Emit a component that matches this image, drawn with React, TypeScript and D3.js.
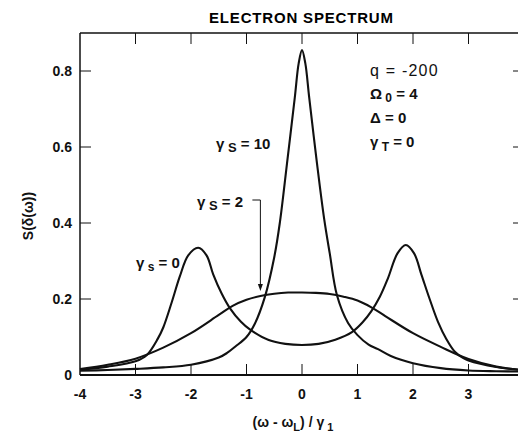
import React from "react";
import * as d3 from "d3";

const xTicks = [-4, -3, -2, -1, 0, 1, 2, 3];
const yTicks = [0, 0.2, 0.4, 0.6, 0.8];
const yTickLabels = ["0", "0.2", "0.4", "0.6", "0.8"];

// gamma_S = 0 (two side peaks)
const g0X = [-4, -3.5, -3, -2.8, -2.6, -2.5, -2.35, -2.2, -2.05, -1.87, -1.72, -1.6, -1.45, -1.3, -1.1, -0.94, -0.6, -0.3, 0, 0.3, 0.6, 0.9, 1.1, 1.25, 1.4, 1.55, 1.72, 1.87, 2.02, 2.15, 2.3, 2.45, 2.6, 2.75, 2.9, 3.0, 3.5, 4];
const g0Y = [0.014, 0.022, 0.036, 0.052, 0.095, 0.125, 0.19, 0.26, 0.315, 0.335, 0.315, 0.265, 0.215, 0.176, 0.14, 0.12, 0.092, 0.082, 0.079, 0.082, 0.093, 0.113, 0.14, 0.168, 0.205, 0.255, 0.32, 0.342, 0.32, 0.265, 0.2, 0.14, 0.095, 0.062, 0.045, 0.038, 0.021, 0.013];

// gamma_S = 2 (broad flat top)
const g2X = [-4, -3.5, -3, -2.5, -2, -1.5, -1.25, -1, -0.75, -0.5, -0.25, 0, 0.25, 0.5, 0.75, 1, 1.25, 1.5, 2, 2.5, 3, 3.5, 4];
const g2Y = [0.016, 0.027, 0.043, 0.072, 0.11, 0.158, 0.182, 0.198, 0.208, 0.214, 0.217, 0.217, 0.216, 0.213, 0.206, 0.196, 0.178, 0.155, 0.11, 0.074, 0.042, 0.022, 0.012];

// gamma_S = 10 (central peak)
const g10X = [-4, -3.5, -3, -2.5, -2, -1.5, -1.35, -1.2, -1, -0.85, -0.67, -0.5, -0.4, -0.27, -0.13, -0.06, 0, 0.06, 0.13, 0.27, 0.4, 0.5, 0.63, 0.83, 1, 1.2, 1.37, 1.6, 2, 2.5, 3, 3.5, 4];
const g10Y = [0.011, 0.013, 0.016, 0.02, 0.027, 0.046, 0.058, 0.075, 0.1, 0.135, 0.205, 0.31, 0.4, 0.557, 0.73, 0.82, 0.855, 0.82, 0.73, 0.557, 0.41, 0.32, 0.21, 0.137, 0.105, 0.08, 0.068, 0.05, 0.031, 0.018, 0.012, 0.01, 0.009];

const series = [
  { xs: g0X, ys: g0Y },
  { xs: g2X, ys: g2Y },
  { xs: g10X, ys: g10Y },
];

const W = 518;
const H = 435;
const left = 80;
const right = 524; // frame runs off the right edge in the scan
const top = 33;
const bottom = 375;
const font = "'Liberation Sans', Arial, sans-serif";

export default function App() {
  const x = d3.scaleLinear().domain([-4, 4]).range([left, right]);
  const y = d3.scaleLinear().domain([0, 0.9]).range([bottom, top]);

  const line = d3
    .line<[number, number]>()
    .x((d) => x(d[0]))
    .y((d) => y(d[1]))
    .curve(d3.curveCatmullRom.alpha(0.5));

  const tickLen = 11;
  const arrowX = x(-0.75);

  return (
    <svg
      width={W}
      height={H}
      style={{ position: "absolute", left: 0, top: 0, background: "#fff" }}
      fontFamily={font}
    >
      <text x={301} y={23} fontSize={15} fontWeight="bold" textAnchor="middle" textLength={184} lengthAdjust="spacing">
        ELECTRON SPECTRUM
      </text>

      {/* frame */}
      <g stroke="#111" fill="none">
        <line x1={left} x2={right} y1={top} y2={top} strokeWidth={1.3} />
        <line x1={left} x2={left} y1={top} y2={bottom} strokeWidth={1.5} />
        <line x1={right} x2={right} y1={top} y2={bottom} strokeWidth={1.5} />
        <line x1={left} x2={right} y1={bottom} y2={bottom} strokeWidth={2.2} />
        {xTicks.slice(1).map((t) => (
          <g key={t}>
            <line x1={x(t)} x2={x(t)} y1={top} y2={top + tickLen} strokeWidth={1} />
            <line x1={x(t)} x2={x(t)} y1={bottom} y2={bottom - tickLen} strokeWidth={1} />
          </g>
        ))}
        {yTicks.slice(1).map((t) => (
          <g key={t}>
            <line x1={left} x2={left + tickLen} y1={y(t)} y2={y(t)} strokeWidth={1} />
            <line x1={right} x2={right - tickLen} y1={y(t)} y2={y(t)} strokeWidth={1} />
          </g>
        ))}
      </g>

      {/* tick labels */}
      <g fontSize={14} fontWeight="bold" fill="#111">
        {yTicks.map((t, i) => (
          <text key={t} x={72} y={y(t)} dy="0.36em" textAnchor="end">
            {yTickLabels[i]}
          </text>
        ))}
        {xTicks.map((t) => (
          <text key={t} x={x(t)} y={399} textAnchor="middle">
            {t}
          </text>
        ))}
      </g>

      {/* axis titles */}
      <text x={293} y={427} fontSize={14} fontWeight="bold" textAnchor="middle" fill="#111">
        (ω - ω<tspan fontSize={11} dy={4}>L</tspan>
        <tspan dy={-4}>) / γ</tspan>
        <tspan fontSize={11} dy={4}> 1</tspan>
      </text>
      <text transform="translate(33,216) rotate(-90)" fontSize={14} fontWeight="bold" textAnchor="middle" fill="#111">
        S(δ(ω))
      </text>

      {/* curves */}
      <g fill="none" stroke="#111" strokeWidth={2.1} strokeLinejoin="round">
        {series.map((s, i) => (
          <path key={i} d={line(s.xs.map((v, j) => [v, s.ys[j]] as [number, number])) || ""} />
        ))}
      </g>

      {/* parameters */}
      <g fill="#111" fontSize={16}>
        <text x={370} y={76} letterSpacing={1.2}>q = -200</text>
        <text x={370} y={99} fontWeight="bold" fontSize={15}>
          Ω<tspan fontSize={12} dy={3}> 0</tspan>
          <tspan dy={-3}> = 4</tspan>
        </text>
        <text x={370} y={123} fontWeight="bold" fontSize={15}>Δ = 0</text>
        <text x={370} y={147} fontWeight="bold" fontSize={15}>
          γ<tspan fontSize={12} dy={4}> T</tspan>
          <tspan dy={-4}> = 0</tspan>
        </text>
      </g>

      {/* curve labels */}
      <g fill="#111" fontSize={15} fontWeight="bold">
        <text x={216} y={149}>
          γ<tspan fontSize={13} dy={3}> S</tspan>
          <tspan dy={-3}> = 10</tspan>
        </text>
        <text x={197} y={207}>
          γ<tspan fontSize={13} dy={3}> S</tspan>
          <tspan dy={-3}> = 2</tspan>
        </text>
        <text x={136} y={268}>
          γ<tspan fontSize={12} dy={3}> s</tspan>
          <tspan dy={-3}> = 0</tspan>
        </text>
      </g>

      {/* bracket arrow for gamma_S = 2 */}
      <g stroke="#111" strokeWidth={1} fill="none">
        <polyline points={`${arrowX - 8},200 ${arrowX},200 ${arrowX},286`} />
      </g>
      <path d={`M${arrowX - 2.5},284 L${arrowX + 2.5},284 L${arrowX},291 Z`} fill="#111" />
    </svg>
  );
}
